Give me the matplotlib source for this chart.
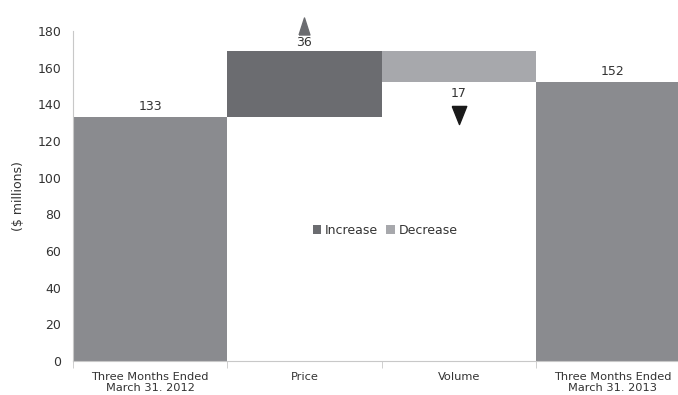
import matplotlib
matplotlib.use("Agg")
import matplotlib.pyplot as plt

categories = ["Three Months Ended\nMarch 31. 2012", "Price", "Volume", "Three Months Ended\nMarch 31. 2013"]
start_value = 133
changes = [36, -17]
end_value = 152
yticks = [0, 20, 40, 60, 80, 100, 120, 140, 160, 180]

c_total = "#8a8b8f"
c_inc = "#6b6c70"
c_dec = "#a7a8ac"
c_axis = "#c8c8c8"
c_text = "#333333"

W, H = 678, 395
fig = plt.figure(figsize=(W / 100, H / 100), dpi=100)
x0, x1 = 73, 690
y0, y1 = 361, 31
ax = fig.add_axes([x0 / W, (H - y0) / H, (x1 - x0) / W, (y0 - y1) / H])
ax.set_xlim(-0.5, 3.5)
ax.set_ylim(0, 180)

# totals
ax.bar([0], [start_value], width=1.0, color=c_total)
ax.bar([3], [end_value], width=1.0, color=c_total)
# changes
running = start_value
for i, ch in enumerate(changes):
    bottom = running if ch > 0 else running + ch
    ax.bar([i + 1], [abs(ch)], bottom=bottom, width=1.0,
           color=c_inc if ch > 0 else c_dec,
           label="Increase" if ch > 0 else "Decrease")
    running += ch

fs = 9
ax.text(0, start_value + 2.5, f"{start_value}", ha="center", va="bottom", fontsize=fs, color=c_text)
ax.text(3, end_value + 2.5, f"{end_value}", ha="center", va="bottom", fontsize=fs, color=c_text)

# change labels with arrows
top_after_inc = start_value + changes[0]
ax.text(1, top_after_inc + 1.2, f"{changes[0]}", ha="center", va="bottom", fontsize=fs, color=c_text, clip_on=False)
up = [(-0.32, -0.5), (0.32, -0.5), (0, 0.5), (-0.32, -0.5)]
ax.scatter([1], [top_after_inc + 14.0], marker=up, s=150, color=c_inc, clip_on=False, zorder=5)
ax.text(2, end_value - 2.5, f"{abs(changes[1])}", ha="center", va="top", fontsize=fs, color=c_text)
down = [(-0.4, 0.5), (0.4, 0.5), (0, -0.5), (-0.4, 0.5)]
ax.scatter([2], [end_value - 18.0], marker=down, s=170, color="#1a1a1a", zorder=5)

ax.set_yticks(yticks)
ax.set_xticks(range(4))
ax.set_xticklabels(categories, fontsize=8.2, color=c_text, linespacing=1.1)
ax.set_xticks([-0.5, 0.5, 1.5, 2.5], minor=True)
ax.tick_params(axis="x", which="major", length=0, pad=8)
ax.tick_params(axis="x", which="minor", length=5, color=c_axis)
ax.tick_params(axis="y", length=0, labelsize=fs, labelcolor=c_text, pad=8.5)
for s in ["top", "right"]:
    ax.spines[s].set_visible(False)
ax.spines["left"].set_color(c_axis)
ax.spines["bottom"].set_color(c_axis)
ax.set_ylabel("($ millions)", fontsize=fs, color=c_text)
ax.yaxis.set_label_coords(-(73 - 25) / (x1 - x0), 0.5)

leg = ax.legend(loc="center", bbox_to_anchor=((385 - x0) / (x1 - x0), (y0 - 230) / (y0 - y1)),
                ncol=2, frameon=False, fontsize=fs, handlelength=0.7, handleheight=0.7,
                handletextpad=0.3, columnspacing=0.6, labelcolor=c_text)

fig.savefig("out.png", dpi=100)
